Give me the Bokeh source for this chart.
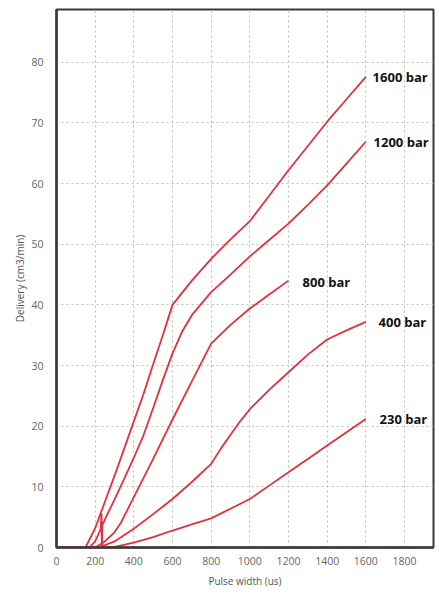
from bokeh.plotting import figure
from bokeh.models import Range1d, FixedTicker, Label
from bokeh.embed import file_html
from bokeh.resources import INLINE

# ---- data ----
x_1600 = [0, 150, 200, 250, 300, 350, 400, 450, 500, 550, 600, 700, 800, 900, 1000, 1100, 1200, 1300, 1400, 1500, 1600]
y_1600 = [0, 0, 3.2, 7.5, 11.8, 16.3, 20.8, 25.3, 30.2, 35.0, 40.0, 44.0, 47.6, 50.8, 53.8, 58.0, 62.2, 66.2, 70.2, 73.9, 77.6]

x_1200 = [0, 170, 200, 228, 233, 235, 237, 250, 300, 350, 400, 450, 500, 550, 600, 650, 700, 800, 900, 1000, 1100, 1200, 1300, 1400, 1500, 1600]
y_1200 = [0, 0, 1.0, 3.0, 5.6, -2.4, 3.7, 4.6, 7.9, 11.3, 14.8, 18.5, 23.0, 27.6, 32.0, 35.6, 38.3, 42.1, 45.0, 48.0, 50.7, 53.4, 56.5, 59.7, 63.3, 66.9]

x_800 = [0, 200, 250, 300, 330, 400, 500, 600, 700, 800, 900, 1000, 1100, 1200]
y_800 = [0, 0, 1.0, 2.5, 3.9, 8.3, 14.6, 21.1, 27.4, 33.6, 36.7, 39.4, 41.7, 44.0]

x_400 = [0, 220, 300, 400, 500, 600, 700, 800, 850, 900, 950, 1000, 1100, 1200, 1300, 1400, 1500, 1600]
y_400 = [0, 0, 1.0, 3.1, 5.5, 8.0, 10.8, 13.8, 16.3, 18.6, 20.8, 22.8, 26.0, 28.9, 31.8, 34.3, 35.8, 37.2]

x_230 = [0, 300, 400, 500, 600, 700, 800, 900, 1000, 1100, 1200, 1300, 1400, 1500, 1600]
y_230 = [0, 0.1, 0.8, 1.7, 2.8, 3.8, 4.8, 6.4, 8.0, 10.2, 12.4, 14.6, 16.8, 19.0, 21.2]

series = [
    ("1600 bar", x_1600, y_1600, 1635, 77.5),
    ("1200 bar", x_1200, y_1200, 1640, 66.8),
    ("800 bar", x_800, y_800, 1273, 43.8),
    ("400 bar", x_400, y_400, 1666, 37.2),
    ("230 bar", x_230, y_230, 1671, 21.2),
]

x_ticks = [0, 200, 400, 600, 800, 1000, 1200, 1400, 1600, 1800]
y_ticks = [0, 10, 20, 30, 40, 50, 60, 70, 80]

RED = "#e0323c"
FONT = "Open Sans"

p = figure(width=437, height=604, output_backend="svg", toolbar_location=None,
           x_range=Range1d(0, 1950), y_range=Range1d(0, 88.7),
           min_border_left=56, min_border_right=4, min_border_top=9, min_border_bottom=57)

p.background_fill_color = "white"
p.border_fill_color = "white"
p.outline_line_color = "#3a3a3a"
p.outline_line_width = 2

for name, xs, ys, lx, ly in series:
    p.line(xs, ys, line_color=RED, line_width=1.8)
    p.add_layout(Label(x=lx, y=ly, text=name, text_font=FONT, text_font_size="13px",
                       text_font_style="bold", text_color="#111111", text_baseline="middle"))

p.xaxis.ticker = FixedTicker(ticks=x_ticks)
p.yaxis.ticker = FixedTicker(ticks=y_ticks)

for ax in (p.xaxis, p.yaxis):
    ax.axis_line_color = "#3a3a3a"
    ax.axis_line_width = 2.5
    ax.major_tick_line_color = None
    ax.minor_tick_line_color = None
    ax.major_label_text_font = FONT
    ax.major_label_text_font_size = "10.5px"
    ax.major_label_text_color = "#666666"
    ax.axis_label_text_font = FONT
    ax.axis_label_text_font_size = "10px"
    ax.axis_label_text_color = "#555555"
    ax.axis_label_text_font_style = "normal"

p.xaxis.axis_label = "Pulse width (us)"
p.yaxis.axis_label = "Delivery (cm3/min)"
p.xaxis.major_label_standoff = 3
p.yaxis.major_label_standoff = 7
p.xaxis.axis_label_standoff = 6
p.yaxis.axis_label_standoff = 1

p.xgrid.ticker = FixedTicker(ticks=x_ticks)
p.ygrid.ticker = FixedTicker(ticks=y_ticks)
for g in (p.xgrid, p.ygrid):
    g.grid_line_color = "#bdbdbd"
    g.grid_line_dash = "2 3"
    g.grid_line_width = 1

# window tab captions at the bottom
p.add_layout(Label(x=-205, y=-8.2, text="Tester", text_font=FONT, text_font_size="6.5px",
                   text_color="#333333", text_baseline="middle"))
p.add_layout(Label(x=-41, y=-8.2, text="Graph", text_font=FONT, text_font_size="6.5px",
                   text_color="#333333", text_baseline="middle"))

open("out.html", "w").write(file_html(p, INLINE))
